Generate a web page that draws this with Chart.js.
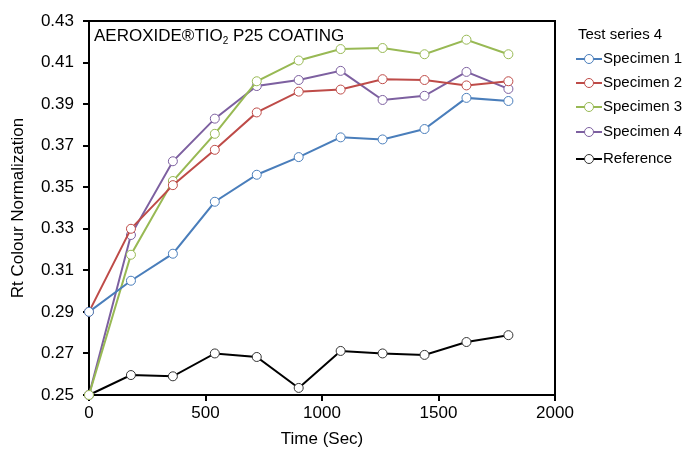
<!DOCTYPE html>
<html>
<head>
<meta charset="utf-8">
<script src="https://cdn.jsdelivr.net/npm/chart.js@4/dist/chart.umd.min.js"></script>
<style>
html,body{margin:0;padding:0;background:#fff;}
#wrap{width:684px;height:450px;position:relative;}
</style>
</head>
<body>
<div id="wrap"><canvas id="c" width="684" height="450"></canvas></div>
<script>
const times = [0, 180, 360, 540, 720, 900, 1080, 1260, 1440, 1620, 1800];
const specimen1 = [0.290, 0.305, 0.318, 0.343, 0.356, 0.3645, 0.374, 0.373, 0.378, 0.393, 0.3915];
const specimen2 = [0.290, 0.330, 0.351, 0.368, 0.386, 0.396, 0.397, 0.402, 0.4016, 0.399, 0.401];
const specimen3 = [0.250, 0.3175, 0.353, 0.3757, 0.401, 0.411, 0.4165, 0.417, 0.414, 0.421, 0.414];
const specimen4 = [0.250, 0.327, 0.3625, 0.383, 0.3987, 0.4016, 0.406, 0.392, 0.394, 0.4055, 0.3973];
const reference = [0.250, 0.2596, 0.259, 0.270, 0.2683, 0.2534, 0.2712, 0.270, 0.2693, 0.2755, 0.2788];
const seriesNames = ['Specimen 1', 'Specimen 2', 'Specimen 3', 'Specimen 4', 'Reference'];
const seriesColors = ['#4A7EBB', '#BE4B48', '#98B954', '#7D60A0', '#000000'];
const yTicks = [0.25, 0.27, 0.29, 0.31, 0.33, 0.35, 0.37, 0.39, 0.41, 0.43];
const xTicks = [0, 500, 1000, 1500, 2000];
const legendTitle = 'Test series 4';
const chartTitle = 'AEROXIDE®TIO';
const chartTitleSub = '2';
const chartTitleRest = ' P25 COATING';

const FONT = '"Liberation Sans", Arial, sans-serif';
const allSeries = [specimen1, specimen2, specimen3, specimen4, reference];

const datasets = allSeries.map((vals, i) => ({
  label: seriesNames[i],
  data: times.map((t, j) => ({x: t, y: vals[j]})),
  borderColor: seriesColors[i],
  backgroundColor: '#ffffff',
  pointBackgroundColor: '#ffffff',
  pointBorderColor: i === 4 ? '#333333' : seriesColors[i],
  pointBorderWidth: 1,
  pointRadius: 4.5,
  borderWidth: 2,
  tension: 0,
  clip: false
}));

const framePlugin = {
  id: 'frame',
  beforeDatasetsDraw(chart) {
    const {ctx, chartArea: a} = chart;
    ctx.save();
    ctx.strokeStyle = '#000';
    ctx.lineWidth = 2;
    ctx.strokeRect(a.left, a.top, a.right - a.left, a.bottom - a.top);
    ctx.fillStyle = '#000';
    ctx.font = '17px ' + FONT;
    ctx.textBaseline = 'alphabetic';
    let x = a.left + 5, y = a.top + 20;
    ctx.fillText(chartTitle, x, y);
    x += ctx.measureText(chartTitle).width;
    ctx.font = '10px ' + FONT;
    ctx.fillText(chartTitleSub, x, y + 3);
    x += ctx.measureText(chartTitleSub).width;
    ctx.font = '17px ' + FONT;
    ctx.fillText(chartTitleRest, x, y);
    ctx.restore();
  },
  afterDraw(chart) {
    const {ctx} = chart;
    ctx.save();
    ctx.fillStyle = '#000';
    ctx.font = '15px ' + FONT;
    ctx.textBaseline = 'middle';
    ctx.fillText(legendTitle, 578, 35);
    const ys = [59, 83, 107, 132, 159];
    seriesNames.forEach((n, i) => {
      const y = ys[i];
      ctx.strokeStyle = seriesColors[i];
      ctx.lineWidth = 2;
      ctx.beginPath();
      ctx.moveTo(576, y);
      ctx.lineTo(602, y);
      ctx.stroke();
      ctx.beginPath();
      ctx.arc(589, y, 4.5, 0, Math.PI * 2);
      ctx.fillStyle = '#fff';
      ctx.fill();
      ctx.lineWidth = 1;
      ctx.strokeStyle = i === 4 ? '#333' : seriesColors[i];
      ctx.stroke();
      ctx.fillStyle = '#000';
      ctx.font = '15px ' + FONT;
      ctx.fillText(n, 603, y);
    });
    ctx.restore();
  }
};

new Chart(document.getElementById('c'), {
  type: 'line',
  data: {datasets},
  options: {
    responsive: false,
    animation: false,
    events: [],
    layout: {padding: {left: 0, right: 129, top: 21, bottom: 0}},
    plugins: {legend: {display: false}, tooltip: {enabled: false}},
    scales: {
      x: {
        type: 'linear',
        min: 0, max: 2000,
        afterBuildTicks: s => { s.ticks = xTicks.map(v => ({value: v})); },
        afterFit: s => { s.height = 55; },
        border: {display: false},
        grid: {drawOnChartArea: false, drawTicks: true, tickLength: 6, color: '#000', lineWidth: 2},
        ticks: {color: '#000', font: {family: FONT, size: 17}, padding: 2, maxRotation: 0, callback: v => String(v)},
        title: {display: true, text: 'Time (Sec)', color: '#000', font: {family: FONT, size: 17}, padding: {top: 0, bottom: 0}}
      },
      y: {
        type: 'linear',
        min: 0.25, max: 0.43,
        afterBuildTicks: s => { s.ticks = yTicks.map(v => ({value: v})); },
        afterFit: s => { s.width = 89; },
        border: {display: false},
        grid: {drawOnChartArea: false, drawTicks: true, tickLength: 6, color: '#000', lineWidth: 2},
        ticks: {color: '#000', font: {family: FONT, size: 17}, padding: 9, callback: v => v.toFixed(2)},
        title: {display: true, text: 'Rt Colour Normalization', color: '#000', font: {family: FONT, size: 17}, padding: {top: 8, bottom: 0}}
      }
    }
  },
  plugins: [framePlugin]
});
</script>
</body>
</html>
